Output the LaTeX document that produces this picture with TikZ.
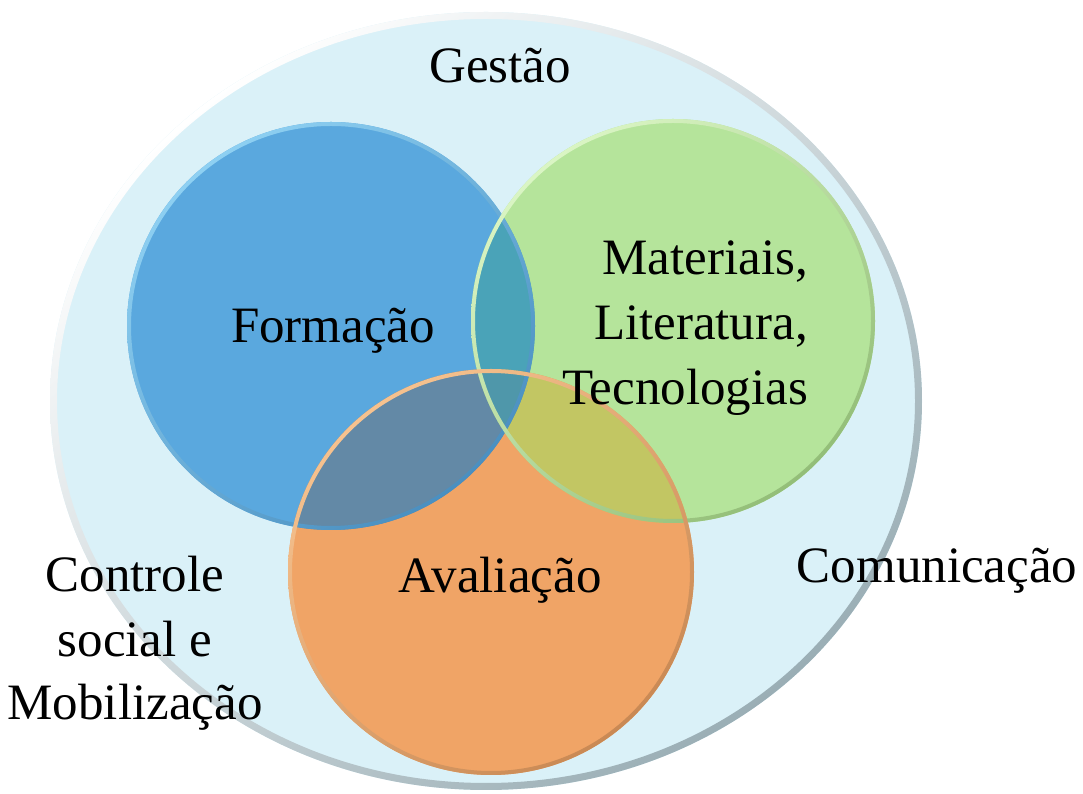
\documentclass[tikz,border=0pt]{standalone}
\usepackage{fontspec}
\setmainfont{Liberation Serif}
\usetikzlibrary{calc}
\definecolor{outerfill}{HTML}{DAF1F8}
\definecolor{outerdark}{HTML}{9AAEB5}
\definecolor{bluefill}{HTML}{5AA8DE}
\definecolor{bluelight}{HTML}{8ED0F2}
\definecolor{bluedark}{HTML}{4A8FC0}
\definecolor{greenfill}{HTML}{B5E49B}
\definecolor{greenlight}{HTML}{DAF5C4}
\definecolor{greendark}{HTML}{93BE78}
\definecolor{orangefill}{HTML}{F0A466}
\definecolor{orangelight}{HTML}{F6C28F}
\definecolor{orangedark}{HTML}{C98954}
\definecolor{bgmix}{HTML}{4AA3B8}
\definecolor{bomix}{HTML}{6389A6}
\definecolor{gomix}{HTML}{C2C663}
\definecolor{allmix}{HTML}{4F97AA}
\tikzset{
  lbl/.style={font=\fontsize{51}{62}\selectfont, inner sep=0pt, anchor=base, text=black},
  lblr/.style={lbl, anchor=base east},
}
\newcommand\bevelring[7]{% center, rx, ry, width, light, mid, dark
  \begin{scope}[even odd rule]
    \clip (#1) ellipse [x radius=#2, y radius=#3] (#1) ellipse [x radius=#2-#4, y radius=#3-#4];
    \shade[top color=#5, middle color=#6, bottom color=#7, shading angle=40] ($(#1)+(-#2,-#3)$) rectangle ($(#1)+(#2,#3)$);
  \end{scope}}
\begin{document}
\begin{tikzpicture}[x=1pt,y=1pt]
\useasboundingbox (0,0) rectangle (1083,794);
\coordinate (E) at (486,393);
\coordinate (B) at (331,468);
\coordinate (G) at (673,473);
\coordinate (O) at (491,222);
% outer ellipse
\fill[outerfill] (E) ellipse [x radius=436, y radius=389];
\bevelring{E}{436}{389}{7}{white}{outerfill!60!white}{outerdark}
% circles
\fill[bluefill] (B) circle (204);
\fill[greenfill] (G) circle (202);
\fill[orangefill] (O) circle (203);
% overlaps
\begin{scope}\clip (B) circle (204); \fill[bgmix] (G) circle (202);\end{scope}
\begin{scope}\clip (B) circle (204); \fill[bomix] (O) circle (203);\end{scope}
\begin{scope}\clip (G) circle (202); \fill[gomix] (O) circle (203);\end{scope}
\begin{scope}\clip (B) circle (204); \clip (G) circle (202); \fill[allmix] (O) circle (203);\end{scope}
% bevels
\bevelring{B}{204}{204}{4}{bluelight}{bluefill}{bluedark}
\bevelring{G}{202}{202}{4}{greenlight}{greenfill}{greendark}
\bevelring{O}{203}{203}{4}{orangelight}{orangefill}{orangedark}
% labels
\node[lbl] (gestao) at (500,711) {Gestão};
\node[lbl] (formacao) at (333,451) {Formação};
\node[lblr] (mat1) at (808,519) {Materiais,};
\node[lblr] (mat2) at (808,454) {Literatura,};
\node[lblr] (mat3) at (808,389) {Tecnologias};
\node[lbl] (avaliacao) at (500,201) {Avaliação};
\node[lbl] (comunicacao) at (937,211) {Comunicação};
\node[lbl] (ctrl1) at (135,202) {Controle};
\node[lbl] (ctrl2) at (135,137) {social e};
\node[lbl] (ctrl3) at (135,74) {Mobilização};
\end{tikzpicture}
\end{document}
